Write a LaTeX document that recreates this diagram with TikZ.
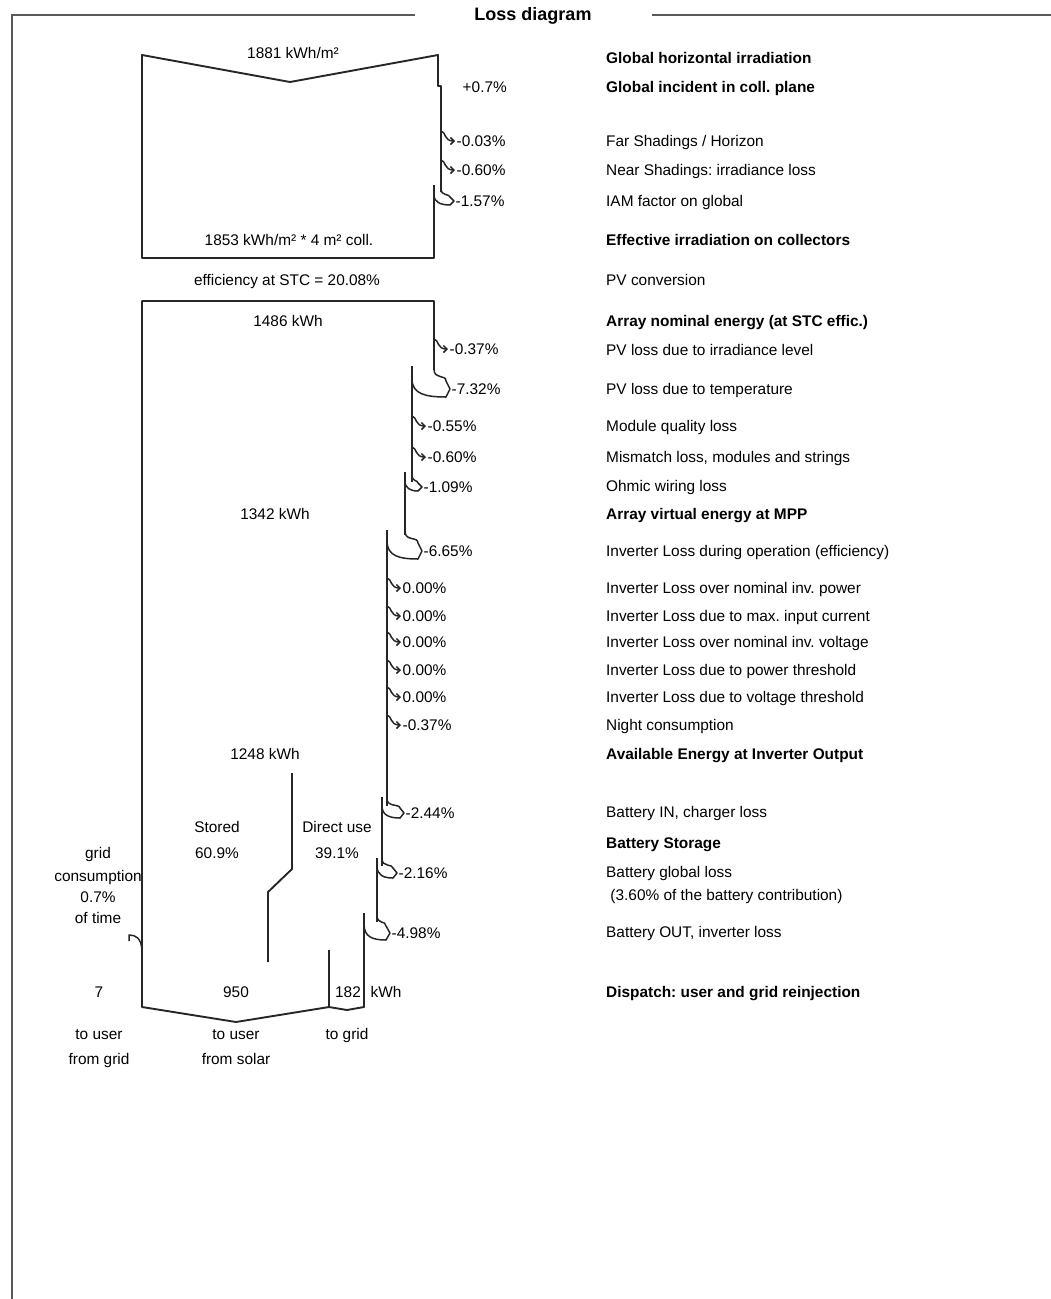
\documentclass[tikz,border=0pt]{standalone}
\usepackage{fontspec}
\setmainfont{Liberation Sans}
\usetikzlibrary{arrows.meta}
\frenchspacing
\newcommand\hookloss[4]{% xline, y, name, text
  \node[pct] (#3) at (#1+14,#2) {#4};
  \draw[hk] (#1,#2-10) .. controls (#1+5,#2-9) and (#1+3,#2) .. (#3.west);}
\newcommand\bandloss[7]{% xold, xnew, xtip, ytip, h, name, text
  \node[pct] (#6) at (#3+4,#4) {#7};
  \draw[flow,line width=1.5pt] (#1,#4-2*#5-4) .. controls (#1,#4-#5-1) and (#3,#4-2*#5+1) .. (#3,#4-#5)
     -- (#6.west) -- (#3,#4+#5)
     .. controls ({#2+0.4*(#3-#2)},#4+#5) and (#2,#4+#5-3) .. (#2,#4-#5-2);}
\begin{document}
\begin{tikzpicture}[x=1pt,y=-1pt,
  flow/.style={line width=1.9pt, black!85, line join=round},
  frame/.style={line width=2.4pt, black!65},
  lbl/.style={font=\fontsize{15.4}{17}\selectfont, inner sep=0pt, text height=11pt, text depth=0pt},
  rl/.style={lbl, anchor=west},
  rb/.style={lbl, anchor=west, font=\fontsize{15.4}{17}\selectfont\bfseries},
  pct/.style={lbl, anchor=west, inner xsep=1.5pt},
  hk/.style={line width=1.5pt, black!85, -{Straight Barb[length=3.5pt,width=7pt]}}]
\useasboundingbox (0,0) rectangle (1051,1299);
% frame
\node[lbl, font=\fontsize{18}{20}\selectfont\bfseries] (title) at (533,15) {Loss diagram};
\draw[frame] (415,15) -- (12,15) -- (12,1299);
\draw[frame] (652,15) -- (1051,15);
% ---- irradiation box
\draw[flow] (441,192) -- (441,86) -- (438,86) -- (438,55) -- (290,82) -- (142,55) -- (142,258) -- (434,258) -- (434,185);
\node[lbl] (ghi) at (293,53) {1881 kWh/m²};
\node[lbl] (eff) at (289,240) {1853 kWh/m² * 4 m² coll.};
\node[pct] (p07) at (461,87) {+0.7\%};
\hookloss{441}{141}{p1}{-0.03\%}
\hookloss{441}{170}{p2}{-0.60\%}
\bandloss{441}{434}{450}{201}{4}{p3}{-1.57\%}
\node[lbl] (stc) at (287,280) {efficiency at STC = 20.08\%};
% ---- energy box
\draw[flow] (434,370) -- (434,301) -- (142,301) -- (142,1007) -- (236,1022) -- (329,1007) -- (347,1010) -- (364,1007) -- (364,913);
\draw[flow] (412,366) -- (412,482);
\draw[flow] (405,472) -- (405,535);
\draw[flow] (387,530) -- (387,806);
\draw[flow] (382,797) -- (382,866);
\draw[flow] (377,858) -- (377,922);
\node[lbl] (e1) at (288,321) {1486 kWh};
\node[lbl] (e2) at (275,514) {1342 kWh};
\node[lbl] (e3) at (265,754) {1248 kWh};
\hookloss{434}{349}{q1}{-0.37\%}
\bandloss{434}{412}{446}{389}{8}{q2}{-7.32\%}
\hookloss{412}{426}{q3}{-0.55\%}
\hookloss{412}{457}{q4}{-0.60\%}
\bandloss{412}{405}{418}{487}{4}{q5}{-1.09\%}
\bandloss{405}{387}{418}{551}{8}{q6}{-6.65\%}
\hookloss{387}{588}{q7}{0.00\%}
\hookloss{387}{616}{q8}{0.00\%}
\hookloss{387}{642}{q9}{0.00\%}
\hookloss{387}{670}{q10}{0.00\%}
\hookloss{387}{697}{q11}{0.00\%}
\hookloss{387}{725}{q12}{-0.37\%}
\bandloss{387}{382}{400}{813}{5}{q13}{-2.44\%}
\bandloss{382}{377}{393}{873}{5}{q14}{-2.16\%}
\bandloss{377}{364}{386}{933}{7}{q15}{-4.98\%}
% battery split
\draw[flow] (292,773) -- (292,869) -- (268,892) -- (268,962);
\draw[flow] (329,950) -- (329,1007);
\draw[flow,line width=1.5pt] (129,941) -- (129,935) .. controls (136,935) and (141,938) .. (142,950);
\node[lbl] (s1) at (217,827) {Stored};
\node[lbl] (s2) at (217,853) {60.9\%};
\node[lbl] (d1) at (337,827) {Direct use};
\node[lbl] (d2) at (337,853) {39.1\%};
\node[lbl] (g1) at (98,853) {grid};
\node[lbl] (g2) at (98,876) {consumption};
\node[lbl] (g3) at (98,897) {0.7\%};
\node[lbl] (g4) at (98,918) {of time};
\node[lbl] (v1) at (99,992) {7};
\node[lbl] (v2) at (236,992) {950};
\node[lbl] (v3) at (348,992) {182};
\node[lbl] (v4) at (386,992) {kWh};
\node[lbl] (u1) at (99,1034) {to user};
\node[lbl] (u2) at (99,1059) {from grid};
\node[lbl] (u3) at (236,1034) {to user};
\node[lbl] (u4) at (236,1059) {from solar};
\node[lbl] (u5) at (347,1034) {to grid};
% right column
\node[rb] at (606,58) {Global horizontal irradiation};
\node[rb] at (606,87) {Global incident in coll. plane};
\node[rl] at (606,141) {Far Shadings / Horizon};
\node[rl] at (606,170) {Near Shadings: irradiance loss};
\node[rl] at (606,201) {IAM factor on global};
\node[rb] at (606,240) {Effective irradiation on collectors};
\node[rl] at (606,280) {PV conversion};
\node[rb] at (606,321) {Array nominal energy (at STC effic.)};
\node[rl] at (606,350) {PV loss due to irradiance level};
\node[rl] at (606,389) {PV loss due to temperature};
\node[rl] at (606,426) {Module quality loss};
\node[rl] at (606,457) {Mismatch loss, modules and strings};
\node[rl] at (606,486) {Ohmic wiring loss};
\node[rb] at (606,514) {Array virtual energy at MPP};
\node[rl] at (606,551) {Inverter Loss during operation (efficiency)};
\node[rl] at (606,588) {Inverter Loss over nominal inv. power};
\node[rl] at (606,616) {Inverter Loss due to max. input current};
\node[rl] at (606,642) {Inverter Loss over nominal inv. voltage};
\node[rl] at (606,670) {Inverter Loss due to power threshold};
\node[rl] at (606,697) {Inverter Loss due to voltage threshold};
\node[rl] at (606,725) {Night consumption};
\node[rb] at (606,754) {Available Energy at Inverter Output};
\node[rl] at (606,812) {Battery IN, charger loss};
\node[rb] at (606,843) {Battery Storage};
\node[rl] at (606,872) {Battery global loss};
\node[rl] at (606,895) {\ (3.60\% of the battery contribution)};
\node[rl] at (606,932) {Battery OUT, inverter loss};
\node[rb] at (606,992) {Dispatch: user and grid reinjection};
\end{tikzpicture}
\end{document}
